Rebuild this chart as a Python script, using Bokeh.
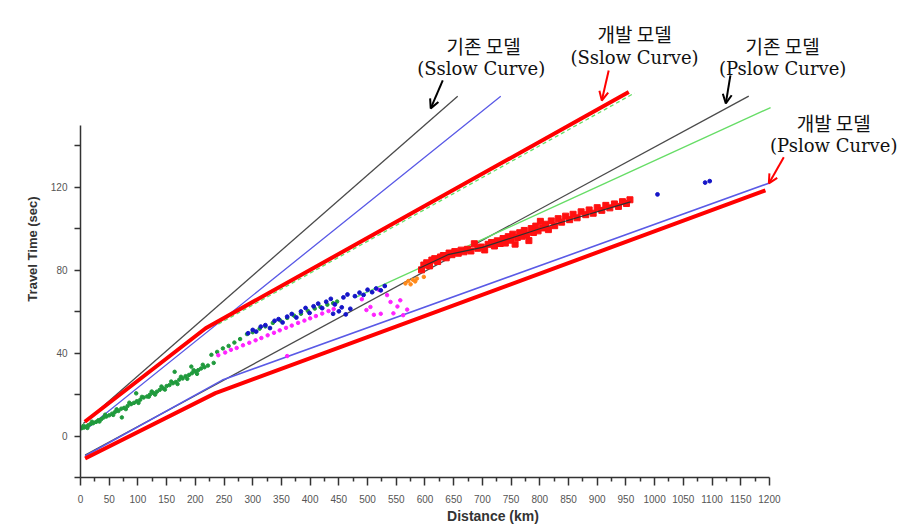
from bokeh.plotting import figure
from bokeh.models import Range1d, FixedTicker, Label, Arrow, OpenHead
from bokeh.embed import file_html
from bokeh.resources import INLINE

# ---------------- data ----------------
x_ticks = list(range(0, 1201, 50))
x_minor = list(range(25, 1200, 50))
y_ticks = [0, 40, 80, 120]
y_minor = [-20, 20, 60, 100, 140]

# model curves (distance km, travel time s)
old_s_x = [5, 657]
old_s_t = [6, 164]
old_s_blue_x = [0, 12, 40, 732]
old_s_blue_t = [4.5, 3.6, 10, 164]
new_s_x = [7.5, 218, 955]
new_s_t = [6.9, 52, 166]
new_s_green_x = [240, 965]
new_s_green_t = [54.0, 165.5]

old_p_x = [8, 1164]
old_p_t = [-9.2, 164]
old_p_green_x = [480, 1202]
old_p_green_t = [67, 158.5]
old_p_blue_x = [8, 247, 1199]
old_p_blue_t = [-9.6, 27, 122]
new_p_x = [8, 235, 1193]
new_p_t = [-10.8, 20.7, 118.5]

fit_x = [590, 640, 700, 800, 958]
fit_t = [81, 87.5, 91, 100, 113]

# observations
green_x = [2, 6, 10, 14, 18, 22, 27, 31, 36, 40, 45, 50, 55, 60, 66, 71, 76, 82, 88, 93,
           98, 104, 110, 116, 121, 127, 133, 138, 144, 150, 155, 161, 166, 172, 178, 183,
           189, 194, 200, 205, 210, 216, 222, 232, 72, 97, 164, 193,
           5, 12, 20, 33, 43, 57, 63, 79, 85, 101, 107, 119, 124, 130, 141, 147, 158, 169,
           175, 186, 197, 203, 213,
           228, 238, 248, 258, 268, 278, 290, 300, 312, 322, 335, 348, 360, 372, 384, 396,
           408, 418, 430, 440, 447]
green_t = [3.8, 4.1, 4.6, 5.3, 5.9, 6.2, 6.8, 7.6, 8.1, 8.9, 9.4, 10.0, 10.8, 11.6, 12.1,
           13.2, 13.6, 14.5, 15.4, 16.0, 16.8, 17.5, 18.6, 19.1, 20.0, 20.8, 21.4, 22.3,
           23.0, 24.1, 24.6, 25.5, 26.1, 27.2, 27.8, 28.9, 29.5, 30.3, 31.1, 31.8, 32.6,
           33.2, 34.0, 35.3, 9.0, 20.6, 31.0, 33.5,
           4.9, 3.9, 6.9, 7.0, 10.3, 10.2, 12.9, 13.0, 16.1, 16.0, 18.9, 19.0, 21.5, 20.0,
           23.9, 22.4, 26.3, 25.1, 28.6, 27.6, 31.8, 30.0, 34.4,
           39.2, 40.6, 42.3, 43.5, 45.1, 46.8, 49.2, 50.1, 51.8, 52.9, 54.6, 55.8, 57.0,
           58.1, 59.0, 60.4, 61.5, 62.3, 63.4, 64.1, 64.9]

magenta_x = [240, 252, 262, 272, 283, 294, 305, 315, 326, 337, 347, 358, 368, 379, 390,
             400, 410, 421, 432, 441, 505, 523, 540, 557, 534, 511, 545, 569, 490, 520,
             498, 552, 562, 360]
magenta_t = [39.0, 40.3, 41.6, 42.5, 43.8, 45.0, 46.2, 47.3, 48.6, 49.8, 51.0, 52.2, 53.3,
             54.6, 55.7, 56.8, 57.9, 59.1, 60.3, 61.3, 62.3, 59.0, 64.7, 65.5, 68.0, 58.5,
             59.2, 61.0, 66.0, 70.5, 60.8, 62.5, 58.3, 38.6]

blue_x = [292, 300, 306, 314, 322, 330, 338, 345, 352, 360, 368, 376, 384, 392, 399, 406,
          414, 421, 428, 436, 443, 450, 458, 465, 470, 478, 486, 493, 500, 508, 515, 523,
          530, 462, 455, 440, 1005, 1088, 1096]
blue_t = [49.6, 51.2, 50.4, 52.8, 53.5, 52.1, 55.6, 56.4, 54.8, 57.6, 58.9, 57.2, 60.1,
          61.8, 59.4, 62.6, 63.9, 61.7, 64.8, 66.2, 63.5, 60.2, 66.9, 68.3, 61.4, 67.5,
          69.2, 68.1, 70.6, 69.4, 71.2, 70.3, 72.4, 58.7, 62.1, 59.0, 116.6, 122.3, 123.0]

orange_x = [566, 571, 575, 579, 583, 586, 598]
orange_t = [73.6, 74.8, 73.2, 75.4, 74.6, 76.0, 76.8]

red_x = [594, 598, 603, 608, 612, 617, 622, 627, 632, 637, 642, 647, 652, 658, 663, 668,
         674, 680, 686, 692, 698, 704, 710, 716, 721, 726, 731, 736, 740, 745, 749, 753,
         757, 761, 765, 769, 773, 777, 781, 785, 789, 793, 797, 801, 805, 810, 815, 820,
         826, 832, 838, 845, 852, 858, 865, 872, 880, 886, 893, 900, 908, 915, 922, 930,
         937, 944, 951, 957]
red_t = [80.2, 82.5, 83.6, 82.1, 84.9, 85.6, 84.2, 86.4, 87.1, 86.0, 88.3, 87.5, 89.0, 88.2,
         89.7, 88.9, 90.1, 89.3, 92.8, 90.6, 91.2, 89.8, 92.5, 93.4, 91.7, 94.2, 92.9, 95.3,
         93.1, 96.2, 94.5, 97.4, 92.6, 95.8, 98.1, 96.4, 99.2, 97.0, 94.3, 100.1, 98.2,
         101.3, 99.0, 103.6, 100.4, 102.2, 99.6, 103.8, 101.5, 104.9, 103.2, 106.1, 104.4,
         107.0, 105.3, 108.2, 106.8, 109.1, 107.5, 110.2, 108.9, 111.3, 110.1, 112.0, 110.8,
         113.1, 112.2, 114.0]

# annotations: (text line 1, text line 2, colour)
notes = [("기존 모델", "(Sslow Curve)", "black"),
         ("개발 모델", "(Sslow Curve)", "red"),
         ("기존 모델", "(Pslow Curve)", "black"),
         ("개발 모델", "(Pslow Curve)", "red")]

# ---------------- figure ----------------
p = figure(width=905, height=526, x_range=Range1d(0, 1437), y_range=Range1d(-20, 200.5),
           output_backend="svg", toolbar_location=None,
           min_border_left=80, min_border_right=0, min_border_top=20, min_border_bottom=49)
p.outline_line_color = None
p.grid.visible = False
p.background_fill_color = "white"

# model lines
p.line(old_s_x, old_s_t, line_color="#4a4a4a", line_width=1.3)
p.line(old_s_blue_x, old_s_blue_t, line_color="#5a5ae6", line_width=1.3)
p.line(new_s_green_x, new_s_green_t, line_color="#66dd66", line_width=1.3, line_dash="4 3")
p.line(new_s_x, new_s_t, line_color="#ff0000", line_width=4)
p.line(old_p_x, old_p_t, line_color="#4a4a4a", line_width=1.3)
p.line(old_p_green_x, old_p_green_t, line_color="#66dd66", line_width=1.3)
p.line(old_p_blue_x, old_p_blue_t, line_color="#5a5ae6", line_width=1.6)
p.line(new_p_x, new_p_t, line_color="#ff0000", line_width=4)

# observations
p.scatter(green_x, green_t, marker="circle", size=3.5, fill_color="#1f9a3c", line_color="#1f9a3c")
p.scatter(magenta_x, magenta_t, marker="circle", size=3.5, fill_color="#ff22ff", line_color="#ff22ff")
p.scatter(blue_x, blue_t, marker="circle", size=3.8, fill_color="#1515c8", line_color="#1515c8")
p.scatter(orange_x, orange_t, marker="circle", size=3.5, fill_color="#ff8a1a", line_color="#ff8a1a")
p.scatter(red_x, red_t, marker="square", size=6, fill_color="#ff1010", line_color="#ff1010")
p.line(fit_x, fit_t, line_color="#303030", line_width=1.2)

# axes
xa = p.xaxis[0]
xa.ticker = FixedTicker(ticks=x_ticks, minor_ticks=x_minor)
xa.bounds = (0, 1200)
xa.axis_line_color = "#333333"
xa.axis_line_width = 1.5
xa.major_tick_line_color = "#333333"
xa.major_tick_line_width = 1.5
xa.minor_tick_line_color = "#333333"
xa.minor_tick_line_width = 1.5
xa.major_tick_in = 0
xa.major_tick_out = 8
xa.minor_tick_in = 0
xa.minor_tick_out = 4
xa.major_label_text_font = "Liberation Sans"
xa.major_label_text_font_size = "10px"
xa.major_label_text_color = "#555555"
xa.major_label_standoff = 9
xa.axis_label = "Distance (km)"
xa.axis_label_text_font = "Liberation Sans"
xa.axis_label_text_font_style = "bold"
xa.axis_label_text_font_size = "14px"
xa.axis_label_text_color = "#333333"
xa.axis_label_standoff = 2

ya = p.yaxis[0]
ya.ticker = FixedTicker(ticks=y_ticks, minor_ticks=y_minor)
ya.bounds = (-20, 150)
ya.axis_line_color = "#333333"
ya.axis_line_width = 1.5
ya.major_tick_line_color = "#333333"
ya.major_tick_line_width = 1.5
ya.minor_tick_line_color = "#333333"
ya.minor_tick_line_width = 1.5
ya.major_tick_in = 0
ya.major_tick_out = 6
ya.minor_tick_in = 0
ya.minor_tick_out = 6
ya.major_label_text_font = "Liberation Sans"
ya.major_label_text_font_size = "10px"
ya.major_label_text_color = "#555555"
ya.major_label_standoff = 7
ya.axis_label = "Travel Time (sec)"
ya.axis_label_text_font = "Liberation Sans"
ya.axis_label_text_font_style = "bold"
ya.axis_label_text_font_size = "13px"
ya.axis_label_text_color = "#333333"
ya.axis_label_standoff = 8

# annotation positions (data coords): line-1 centre, line-2 centre, arrow start, arrow end
note_pos = [((702, 188.4), (698, 177.3), (631, 171.6), (610, 158.1)),
            ((965, 194.2), (965, 182.7), (920, 176.4), (908, 161.9)),
            ((1223, 188.4), (1223, 177.3), (1132, 174.0), (1124, 160.5)),
            ((1312, 151.3), (1312, 140.2), (1225, 134.5), (1199, 121.9))]

for (l1, l2, col), (p1, p2, a0, a1) in zip(notes, note_pos):
    p.add_layout(Label(x=p1[0], y=p1[1], text=l1, text_font="Noto Sans CJK KR",
                       text_font_size="19px", text_align="center", text_baseline="middle",
                       text_color="#111111"))
    p.add_layout(Label(x=p2[0], y=p2[1], text=l2, text_font="DejaVu Serif",
                       text_font_size="18px", text_align="center", text_baseline="middle",
                       text_color="#111111"))
    p.add_layout(Arrow(x_start=a0[0], y_start=a0[1], x_end=a1[0], y_end=a1[1],
                       line_color=col, line_width=2,
                       end=OpenHead(size=9, line_color=col, line_width=2)))

open("out.html", "w").write(file_html(p, INLINE))
